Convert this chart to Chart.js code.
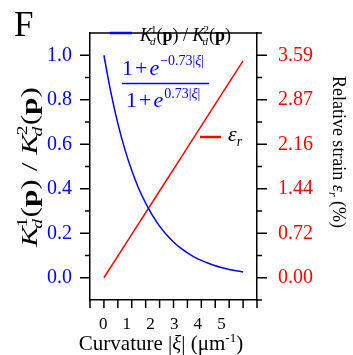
<!DOCTYPE html>
<html>
<head>
<meta charset="utf-8">
<script src="https://cdn.jsdelivr.net/npm/chart.js@4/dist/chart.umd.min.js"></script>
<style>
html,body{margin:0;padding:0;background:#fff;}
#c{display:block;}
</style>
</head>
<body>
<canvas id="c" width="353" height="355"></canvas>
<script>
// ---- data ----
const curvature = [0, 0.25, 0.5, 0.75, 1.0, 1.25, 1.5, 1.75, 2.0, 2.25, 2.5, 2.75, 3.0, 3.25, 3.5, 3.75, 4.0, 4.25, 4.5, 4.75, 5.0];
const kdRatio   = [1.000, 0.833, 0.694, 0.578, 0.482, 0.401, 0.335, 0.279, 0.232, 0.193, 0.161, 0.134, 0.112, 0.093, 0.078, 0.065, 0.054, 0.045, 0.037, 0.031, 0.026];
const strainCurvature = [0, 1, 2, 3, 4, 5];
const strainPct       = [0, 0.70, 1.40, 2.10, 2.80, 3.50];

const xTickValues  = [0, 1, 2, 3, 4, 5];
const xTickLabels  = ['0', '1', '2', '3', '4', '5'];
const leftTickValues  = [0, 0.2, 0.4, 0.6, 0.8, 1.0];
const leftTickLabels  = ['0.0', '0.2', '0.4', '0.6', '0.8', '1.0'];
const rightTickValues = [0, 0.718, 1.436, 2.154, 2.872, 3.59];
const rightTickLabels = ['0.00', '0.72', '1.44', '2.16', '2.87', '3.59'];

const BLUE = '#0000ff', RED = '#ff0000', BLACK = '#000000';
const SERIF = '"Liberation Serif", "Times New Roman", serif';

function f(size, style) { return (style || '') + ' ' + size + 'px ' + SERIF; }

function runsWidth(ctx, runs) {
  let w = 0;
  for (const r of runs) {
    if (r.stack) {
      let m = 0;
      for (const s of r.stack) { ctx.font = s.font; m = Math.max(m, ctx.measureText(s.t).width + (s.dx || 0)); }
      w += m;
    } else {
      ctx.font = r.font; w += ctx.measureText(r.t).width + (r.dx || 0);
    }
  }
  return w;
}
function drawRuns(ctx, runs, x, y, color) {
  ctx.fillStyle = color;
  ctx.textBaseline = 'alphabetic';
  ctx.textAlign = 'left';
  for (const r of runs) {
    if (r.stack) {
      let m = 0;
      for (const s of r.stack) {
        ctx.font = s.font;
        ctx.fillText(s.t, x + (s.dx || 0), y + (s.dy || 0));
        m = Math.max(m, ctx.measureText(s.t).width + (s.dx || 0));
      }
      x += m;
    } else {
      ctx.font = r.font;
      x += (r.dx || 0);
      ctx.fillText(r.t, x, y + (r.dy || 0));
      x += ctx.measureText(r.t).width;
    }
  }
}
function kdRuns(size, supN) {
  const s = Math.round(size * 0.62);
  return [
    {t: 'K', font: f(size, 'italic')},
    {stack: [{t: supN, font: f(s), dy: -size * 0.42, dx: -1}, {t: 'd', font: f(s, 'italic'), dy: size * 0.22, dx: -2}]},
    {t: '(', font: f(size)},
    {t: 'p', font: f(size, 'bold')},
    {t: ')', font: f(size)}
  ];
}

const decor = {
  id: 'decor',
  afterDraw(chart) {
    const ctx = chart.ctx;
    const a = chart.chartArea;
    const sx = chart.scales.x, sy = chart.scales.y, sy2 = chart.scales.y2;
    ctx.save();
    // top frame line
    ctx.strokeStyle = BLACK; ctx.lineWidth = 1.5;
    ctx.beginPath(); ctx.moveTo(a.left - 0.75, a.top); ctx.lineTo(a.right + 0.75, a.top); ctx.stroke();
    // x ticks every 0.5
    ctx.beginPath();
    for (let v = -0.5; v <= 5.5001; v += 0.5) {
      const px = sx.getPixelForValue(v);
      ctx.moveTo(px, a.bottom); ctx.lineTo(px, a.bottom + 8);
    }
    // left y ticks
    for (let v = 0; v <= 1.0001; v += 0.1) {
      const py = sy.getPixelForValue(v);
      const major = Math.round(v * 10) % 2 === 0;
      ctx.moveTo(a.left, py); ctx.lineTo(a.left - (major ? 10 : 5), py);
    }
    // right y ticks
    for (let i = -1; i <= 11; i++) {
      const v = i * 0.359;
      const py = sy2.getPixelForValue(v);
      const major = i >= 0 && i % 2 === 0;
      ctx.moveTo(a.right, py); ctx.lineTo(a.right + (major ? 10 : 5), py);
    }
    ctx.stroke();

    // panel letter
    ctx.fillStyle = BLACK; ctx.font = f(35); ctx.textBaseline = 'alphabetic'; ctx.textAlign = 'left';
    ctx.fillText('F', 14, 36);

    // left axis title (rotated)
    const lt = kdRuns(24, '1').concat([{t: ' / ', font: f(24)}]).concat(kdRuns(24, '2'));
    ctx.save();
    ctx.translate(37, 167); ctx.rotate(-Math.PI / 2);
    const lw = runsWidth(ctx, lt);
    ctx.scale(160 / lw, 1);
    drawRuns(ctx, lt, -lw / 2, 0, BLACK);
    ctx.restore();

    // right axis title (rotated)
    const rt = [
      {t: 'Relative strain ', font: f(18)},
      {t: 'ε', font: f(18, 'italic')},
      {t: 'r', font: f(12, 'italic'), dy: 4},
      {t: ' (%)', font: f(18)}
    ];
    ctx.save();
    ctx.translate(333, 152); ctx.rotate(Math.PI / 2);
    drawRuns(ctx, rt, -runsWidth(ctx, rt) / 2, 0, BLACK);
    ctx.restore();

    // x axis title
    const xt = [
      {t: 'Curvature |', font: f(21)},
      {t: 'ξ', font: f(21, 'italic')},
      {t: '| (μm', font: f(21)},
      {t: '-1', font: f(13), dy: -8},
      {t: ')', font: f(21)}
    ];
    drawRuns(ctx, xt, 161 - runsWidth(ctx, xt) / 2, 350, BLACK);

    // legend: blue
    ctx.strokeStyle = BLUE; ctx.lineWidth = 2.5;
    ctx.beginPath(); ctx.moveTo(110, 33); ctx.lineTo(132, 33); ctx.stroke();
    const lg = kdRuns(18, '1').concat([{t: ' / ', font: f(18)}]).concat(kdRuns(18, '2'));
    drawRuns(ctx, lg, 140, 41, BLACK);

    // formula
    const num = [
      {t: '1', font: f(22)}, {t: '+', font: f(22), dx: 2}, {t: 'e', font: f(22, 'italic'), dx: 2},
      {t: '−0.73|', font: f(14), dy: -10, dx: 1}, {t: 'ξ', font: f(14, 'italic'), dy: -10}, {t: '|', font: f(14), dy: -10}
    ];
    drawRuns(ctx, num, 122, 75, BLUE);
    ctx.strokeStyle = BLUE; ctx.lineWidth = 1.5;
    ctx.beginPath(); ctx.moveTo(122, 83.5); ctx.lineTo(209, 83.5); ctx.stroke();
    const den = [
      {t: '1', font: f(22)}, {t: '+', font: f(22), dx: 2}, {t: 'e', font: f(22, 'italic'), dx: 2},
      {t: '0.73|', font: f(14), dy: -9, dx: 1}, {t: 'ξ', font: f(14, 'italic'), dy: -9}, {t: '|', font: f(14), dy: -9}
    ];
    drawRuns(ctx, den, 126, 107, BLUE);

    // legend: red
    ctx.strokeStyle = RED; ctx.lineWidth = 2.5;
    ctx.beginPath(); ctx.moveTo(200, 137); ctx.lineTo(221, 137); ctx.stroke();
    drawRuns(ctx, [{t: 'ε', font: f(22, 'italic')}, {t: 'r', font: f(14, 'italic'), dy: 5}], 228, 141, BLACK);

    ctx.restore();
  }
};

new Chart(document.getElementById('c'), {
  type: 'line',
  data: {
    datasets: [
      {
        label: 'Kd1(p)/Kd2(p)',
        data: curvature.map((x, i) => ({x: x, y: kdRatio[i]})),
        borderColor: BLUE, borderWidth: 1.5, pointRadius: 0,
        cubicInterpolationMode: 'monotone',
        xAxisID: 'x', yAxisID: 'y'
      },
      {
        label: 'εr',
        data: strainCurvature.map((x, i) => ({x: x, y: strainPct[i]})),
        borderColor: RED, borderWidth: 1.5, pointRadius: 0,
        xAxisID: 'x', yAxisID: 'y2'
      }
    ]
  },
  options: {
    responsive: false,
    animation: false,
    devicePixelRatio: 1,
    layout: {padding: {top: 18, left: 0, right: 0, bottom: 0}},
    plugins: {legend: {display: false}, tooltip: {enabled: false}},
    scales: {
      x: {
        type: 'linear', display: false, min: -0.5, max: 5.5
      },
      xl: {
        type: 'linear', position: 'bottom', min: -0.555, max: 6.5,
        afterBuildTicks: s => { s.ticks = xTickValues.map(v => ({value: v})); },
        afterFit: s => { s.height = 55; },
        grid: {display: true, drawOnChartArea: false, drawTicks: false},
        border: {display: true, color: BLACK, width: 1.5},
        ticks: {
          color: BLACK, font: {family: SERIF, size: 17}, padding: 14, maxRotation: 0,
          callback: (v) => { const i = xTickValues.indexOf(v); return i >= 0 ? xTickLabels[i] : ''; }
        }
      },
      y: {
        type: 'linear', position: 'left', min: -0.1, max: 1.1,
        afterBuildTicks: s => { s.ticks = leftTickValues.map(v => ({value: v})); },
        afterFit: s => { s.width = 90; },
        grid: {display: true, drawOnChartArea: false, drawTicks: false},
        border: {display: true, color: BLACK, width: 1.5},
        ticks: {
          color: BLUE, font: {family: SERIF, size: 20}, padding: 18,
          callback: (v) => { const i = leftTickValues.findIndex(t => Math.abs(t - v) < 1e-6); return i >= 0 ? leftTickLabels[i] : ''; }
        }
      },
      y2: {
        type: 'linear', position: 'right', min: -0.359, max: 3.949,
        afterBuildTicks: s => { s.ticks = rightTickValues.map(v => ({value: v})); },
        afterFit: s => { s.width = 96; },
        grid: {display: true, drawOnChartArea: false, drawTicks: false},
        border: {display: true, color: BLACK, width: 1.5},
        ticks: {
          color: RED, font: {family: SERIF, size: 20}, padding: 21,
          callback: (v) => { const i = rightTickValues.findIndex(t => Math.abs(t - v) < 1e-6); return i >= 0 ? rightTickLabels[i] : ''; }
        }
      }
    }
  },
  plugins: [decor]
});
</script>
</body>
</html>
